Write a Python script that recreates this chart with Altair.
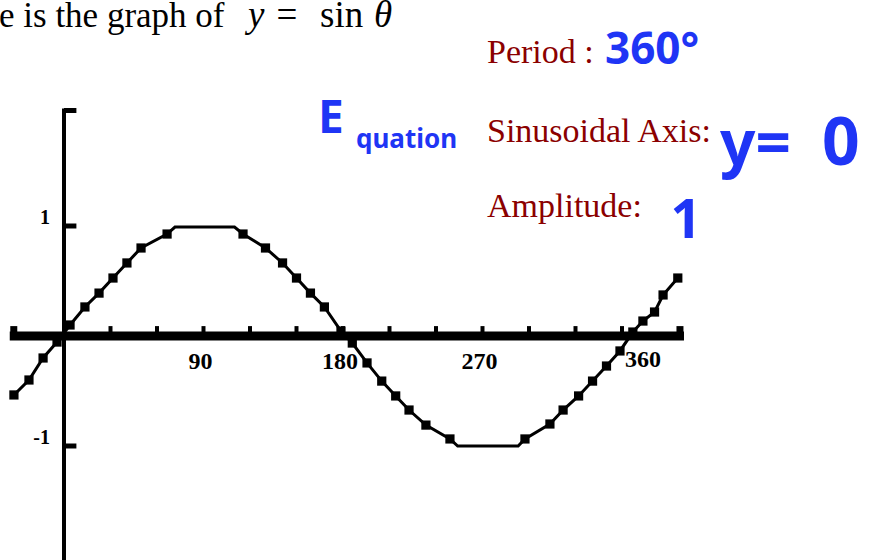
import altair as alt
import pandas as pd

# Points along y = sin(theta), theta in degrees
theta_deg = [-32.3, -22.6, -13.5, -4.5, 3.9, 13.5, 22.6, 31.6, 40.6, 49.7, 66.5,
             71.6, 110.0,
             115.5, 130.0, 141.0, 150.0, 159.0, 168.0, 178.7, 186.0, 195.5, 205.0,
             214.0, 222.6, 233.5, 249.0,
             254.0, 293.0,
             297.4, 313.5, 322.0, 332.0, 341.0, 350.0, 358.7, 367.0, 373.5, 381.0,
             386.5, 396.0]
sin_val = [-0.536, -0.40, -0.20, -0.055, 0.10, 0.264, 0.39, 0.527, 0.664, 0.80, 0.927,
           0.99, 0.99,
           0.927, 0.80, 0.664, 0.527, 0.39, 0.264, 0.045, -0.064, -0.245, -0.41,
           -0.545, -0.673, -0.81, -0.936,
           -1.0, -1.0,
           -0.936, -0.80, -0.673, -0.545, -0.41, -0.273, -0.136, 0.036, 0.136, 0.218,
           0.373, 0.527]
# flat stretches at the crest and trough carry no square marker
plateau_deg = [71.6, 110.0, 254.0, 293.0]

# axes
x_axis_ends = [-35, 400]
x_tick_deg = [30, 60, 90, 120, 150, 180, 210, 240, 270, 300, 330, 360]
x_labels = [90, 180, 270]
x_label_last = [360]
y_axis_ends = [-2.04, 2.05]
y_tick_vals = [1, -1, 2.05]
y_labels = [1, -1]

FONT_SERIF = "Liberation Serif"
FONT_HAND = "Noto Sans"
RED = "#8b0000"
BLUE = "#1f35f5"

xs = alt.Scale(domain=[-41.29, 521.94], nice=False, zero=False)
ys = alt.Scale(domain=[-2.0364, 3.0545], nice=False, zero=False)

curve = pd.DataFrame({"theta": theta_deg, "val": sin_val})
curve["marked"] = ~curve["theta"].isin(plateau_deg)

X = lambda f: alt.X(f, scale=xs, axis=None)
Y = lambda f: alt.Y(f, scale=ys, axis=None)

line = alt.Chart(curve).mark_line(color="black", strokeWidth=3).encode(
    x=X("theta:Q"), y=Y("val:Q"), order="theta:Q")
squares = alt.Chart(curve).transform_filter("datum.marked").mark_square(
    size=85, color="black", opacity=1, strokeWidth=0).encode(
    x=X("theta:Q"), y=Y("val:Q"))

# horizontal axis: thick band with end caps and small ticks
xaxis = alt.Chart(pd.DataFrame({"a": [x_axis_ends[0]], "b": [x_axis_ends[1]], "z": [0]})).mark_rule(
    color="black", strokeWidth=9).encode(x=X("a:Q"), x2="b:Q", y=Y("z:Q"))
caps = pd.DataFrame({"c": [x_axis_ends[0] + 2.6, x_axis_ends[1] - 2.6], "z": [0, 0], "h": [0.09, 0.09]})
xcaps = alt.Chart(caps).mark_rule(color="black", strokeWidth=7).encode(
    x=X("c:Q"), y=Y("z:Q"), y2="h:Q")
xt = pd.DataFrame({"t": x_tick_deg, "z": 0, "h": 0.09})
xticks = alt.Chart(xt).mark_rule(color="black", strokeWidth=4).encode(
    x=X("t:Q"), y=Y("z:Q"), y2="h:Q")

# vertical axis with short ticks to the right
yaxis = alt.Chart(pd.DataFrame({"z": [0], "a": [y_axis_ends[0]], "b": [y_axis_ends[1]]})).mark_rule(
    color="black", strokeWidth=4, strokeCap="square").encode(x=X("z:Q"), y=Y("a:Q"), y2="b:Q")
yt = pd.DataFrame({"v": y_tick_vals, "z": 0, "w": 8})
yticks = alt.Chart(yt).mark_rule(color="black", strokeWidth=5).encode(
    x=X("z:Q"), x2="w:Q", y=Y("v:Q"))

xl = pd.DataFrame({"d": x_labels, "z": 0})
xlab = alt.Chart(xl).mark_text(font=FONT_SERIF, fontSize=24, fontWeight="bold", color="black",
                               baseline="alphabetic", align="center", dx=-3, dy=33).encode(
    x=X("d:Q"), y=Y("z:Q"), text="d:N")
xl2 = pd.DataFrame({"d": x_label_last, "z": 0})
xlab2 = alt.Chart(xl2).mark_text(font=FONT_SERIF, fontSize=24, fontWeight="bold", color="black",
                                 baseline="alphabetic", align="center", dx=21, dy=31).encode(
    x=X("d:Q"), y=Y("z:Q"), text="d:N")
yl = pd.DataFrame({"v": y_labels, "z": 0})
ylab = alt.Chart(yl).mark_text(font=FONT_SERIF, fontSize=20, fontWeight="bold", color="black",
                               baseline="middle", align="right", dx=-14, dy=-8).encode(
    x=X("z:Q"), y=Y("v:Q"), text="v:N")


def note(text, x, y, size, color, font, **kw):
    return alt.Chart(pd.DataFrame({"t": [text]})).mark_text(
        align=kw.pop("align", "left"), baseline="alphabetic", fontSize=size,
        color=color, font=font, **kw).encode(
        x=alt.value(x), y=alt.value(y), text="t:N")


notes = [
    note("e is the graph of", -1, 27, 35, "black", FONT_SERIF),
    note("y", 248, 27, 37, "black", FONT_SERIF, fontStyle="italic"),
    note("=", 287, 27, 37, "black", FONT_SERIF, align="center"),
    note("sin", 320, 27, 37, "black", FONT_SERIF),
    note("θ", 374, 27, 37, "black", FONT_SERIF, fontStyle="italic"),
    note("Period :", 487, 63, 34, RED, FONT_SERIF),
    note("Sinusoidal Axis:", 487, 142, 34, RED, FONT_SERIF),
    note("Amplitude:", 487, 217, 34, RED, FONT_SERIF),
    note("360°", 605, 64, 44, BLUE, FONT_HAND, fontWeight="bold"),
    note("E", 318, 133, 46, BLUE, FONT_HAND, fontWeight="bold"),
    note("quation", 356, 148, 26, BLUE, FONT_HAND, fontWeight="bold"),
    note("y=", 720, 165, 62, BLUE, FONT_HAND, fontWeight="bold"),
    note("0", 822, 165, 66, BLUE, FONT_HAND, fontWeight="bold"),
    note("1", 686, 238, 54, BLUE, FONT_HAND, align="center", fontWeight="bold"),
]

chart = alt.layer(
    xaxis, xcaps, xticks, yaxis, yticks, line, squares, xlab, xlab2, ylab, *notes
).properties(
    width=873, height=560, padding=0, autosize="none", background="white"
).configure_view(stroke=None)

chart.save("out.html", embed_options={"renderer": "svg", "actions": False})
